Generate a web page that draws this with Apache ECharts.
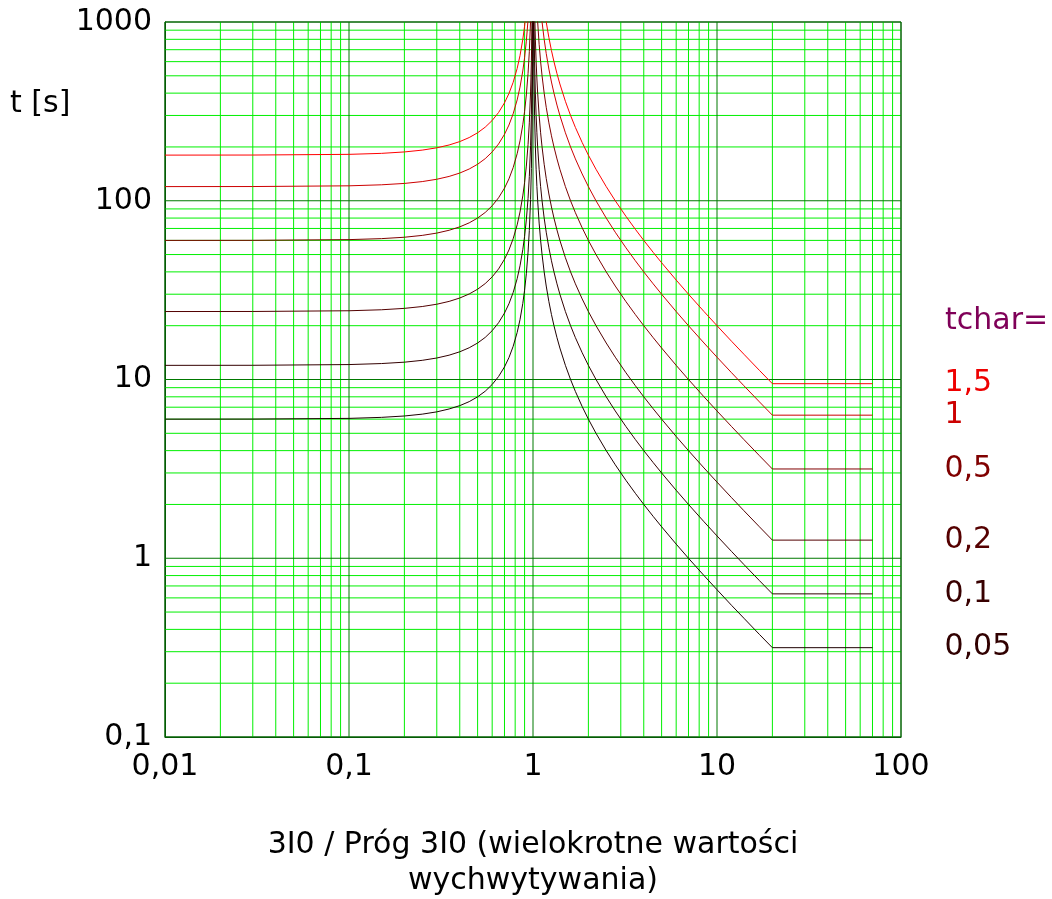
<!DOCTYPE html>
<html>
<head>
<meta charset="utf-8">
<script src="https://cdn.jsdelivr.net/npm/echarts@6/dist/echarts.min.js"></script>
<style>
  html, body { margin: 0; padding: 0; background: #fff; }
  #chart { width: 1052px; height: 899px; }
</style>
</head>
<body>
<div id="chart"></div>
<script>
// multiples of pick-up value (3I0 / Prog 3I0), below and above 1
const xLeft = [0.01, 0.03, 0.1, 0.15, 0.2, 0.25, 0.3, 0.35, 0.4, 0.45,
  0.5, 0.55, 0.6, 0.65, 0.7, 0.74, 0.78, 0.82, 0.85, 0.88,
  0.9, 0.92, 0.94, 0.955, 0.97, 0.98, 0.99, 0.995, 0.998];
const xRight = [1.002, 1.005, 1.01, 1.02, 1.03, 1.04, 1.05, 1.06, 1.08, 1.1,
  1.12, 1.15, 1.18, 1.22, 1.26, 1.3, 1.35, 1.4, 1.5, 1.6,
  1.7, 1.85, 2, 2.2, 2.5, 2.8, 3.2, 3.6, 4, 4.5,
  5, 6, 7, 8.5, 10, 12, 14, 17, 20, 70];

// times t [s] (left branch, right branch)
const t005L = [6.0, 6.005, 6.06, 6.14, 6.25, 6.40, 6.59, 6.84, 7.14, 7.52,
  8.0, 8.60, 9.38, 10.39, 11.76, 13.26, 15.32, 18.32, 21.62, 26.60,
  31.58, 39.06, 51.55, 68.20, 101.5, 151.5, 301.5, 601.5, 1501.5];
const t005R = [3000, 1200, 600, 300, 200, 150, 120, 100, 75, 60,
  50, 40, 33.33, 27.27, 23.08, 20, 17.14, 15, 12, 10,
  8.571, 7.059, 6, 5, 4, 3.333, 2.727, 2.308, 2, 1.714,
  1.5, 1.2, 1.0, 0.8, 0.667, 0.545, 0.462, 0.375, 0.316, 0.316];

const t01L = [12.0, 12.01, 12.12, 12.28, 12.5, 12.80, 13.19, 13.68, 14.29, 15.05,
  16.0, 17.20, 18.75, 20.78, 23.53, 26.52, 30.64, 36.63, 43.24, 53.19,
  63.16, 78.13, 103.1, 136.4, 203.0, 303.0, 603.0, 1203, 3003];
const t01R = [6000, 2400, 1200, 600, 400, 300, 240, 200, 150, 120,
  100, 80, 66.67, 54.55, 46.15, 40, 34.29, 30, 24, 20,
  17.14, 14.12, 12, 10, 8, 6.667, 5.455, 4.615, 4, 3.429,
  3, 2.4, 2, 1.6, 1.333, 1.091, 0.923, 0.75, 0.632, 0.632];

const t02L = [24.0, 24.02, 24.24, 24.55, 25.0, 25.60, 26.37, 27.35, 28.57, 30.09,
  32.0, 34.41, 37.5, 41.56, 47.06, 53.05, 61.29, 73.26, 86.49, 106.4,
  126.3, 156.3, 206.2, 272.8, 406.1, 606.1, 1206, 2406, 6006];
const t02R = [12000, 4800, 2400, 1200, 800, 600, 480, 400, 300, 240,
  200, 160, 133.3, 109.1, 92.31, 80, 68.57, 60, 48, 40,
  34.29, 28.24, 24, 20, 16, 13.33, 10.91, 9.231, 8, 6.857,
  6, 4.8, 4, 3.2, 2.667, 2.182, 1.846, 1.5, 1.263, 1.263];

const t05L = [60.0, 60.05, 60.61, 61.38, 62.5, 64.0, 65.93, 68.38, 71.43, 75.23,
  80.0, 86.02, 93.75, 103.9, 117.6, 132.6, 153.2, 183.2, 216.2, 266.0,
  315.8, 390.6, 515.5, 682.0, 1015, 1515, 3015, 6015, 15015];
const t05R = [30000, 12000, 6000, 3000, 2000, 1500, 1200, 1000, 750, 600,
  500, 400, 333.3, 272.7, 230.8, 200, 171.4, 150, 120, 100,
  85.71, 70.59, 60, 50, 40, 33.33, 27.27, 23.08, 20, 17.14,
  15, 12, 10, 8, 6.667, 5.455, 4.615, 3.75, 3.158, 3.158];

const t1L = [120.0, 120.1, 121.2, 122.8, 125.0, 128.0, 131.9, 136.8, 142.9, 150.5,
  160.0, 172.0, 187.5, 207.8, 235.3, 265.2, 306.4, 366.3, 432.4, 531.9,
  631.6, 781.3, 1031, 1364, 2030, 3030, 6030, 12030, 30030];
const t1R = [60000, 24000, 12000, 6000, 4000, 3000, 2400, 2000, 1500, 1200,
  1000, 800, 666.7, 545.5, 461.5, 400, 342.9, 300, 240, 200,
  171.4, 141.2, 120, 100, 80, 66.67, 54.55, 46.15, 40, 34.29,
  30, 24, 20, 16, 13.33, 10.91, 9.231, 7.5, 6.316, 6.316];

const t15L = [180.0, 180.2, 181.8, 184.1, 187.5, 192.0, 197.8, 205.1, 214.3, 225.7,
  240.0, 258.1, 281.3, 311.7, 352.9, 397.9, 459.6, 549.5, 648.6, 797.9,
  947.4, 1172, 1546, 2046, 3046, 4545, 9045, 18045, 45045];
const t15R = [90000, 36000, 18000, 9000, 6000, 4500, 3600, 3000, 2250, 1800,
  1500, 1200, 1000, 818.2, 692.3, 600, 514.3, 450, 360, 300,
  257.1, 211.8, 180, 150, 120, 100, 81.82, 69.23, 60, 51.43,
  45, 36, 30, 24, 20, 16.36, 13.85, 11.25, 9.474, 9.474];

const curveNames = ["0,05", "0,1", "0,2", "0,5", "1", "1,5"];
const curveLeft = [t005L, t01L, t02L, t05L, t1L, t15L];
const curveRight = [t005R, t01R, t02R, t05R, t1R, t15R];
const curveColors = ["#1e0000", "#330000", "#520000", "#800000", "#cc0000", "#ff0000"];
const labelColors = ["#300000", "#380000", "#550000", "#800000", "#cc0000", "#ee0000"];

// grid line positions
const majorX = [0.01, 0.1, 1, 10, 100];
const majorY = [0.1, 1, 10, 100, 1000];
const minorX = [0.02, 0.03, 0.04, 0.05, 0.06, 0.07, 0.08, 0.09,
  0.2, 0.3, 0.4, 0.5, 0.6, 0.7, 0.8, 0.9,
  2, 3, 4, 5, 6, 7, 8, 9,
  20, 30, 40, 50, 60, 70, 80, 90];
const minorY = [0.2, 0.3, 0.4, 0.5, 0.6, 0.7, 0.8, 0.9,
  2, 3, 4, 5, 6, 7, 8, 9,
  20, 30, 40, 50, 60, 70, 80, 90,
  200, 300, 400, 500, 600, 700, 800, 900];

const FONT = "DejaVu Sans";
const FS = 30;
const fmt = v => String(v).replace(".", ",");

let myChart = echarts.init(document.getElementById("chart"));

function gridLines(vertical, color) {
  return function (params, api) {
    let cs = params.coordSys;
    let p = api.coord(vertical ? [api.value(0), 1] : [1, api.value(0)]);
    let shape = vertical
      ? { x1: p[0], y1: cs.y, x2: p[0], y2: cs.y + cs.height }
      : { x1: cs.x, y1: p[1], x2: cs.x + cs.width, y2: p[1] };
    return {
      type: "line",
      shape: shape,
      style: { stroke: color, lineWidth: 1 },
      silent: true
    };
  };
}

function gridSeries(values, vertical, color, z) {
  return {
    type: "custom",
    z: z,
    silent: true,
    clip: false,
    renderItem: gridLines(vertical, color),
    encode: vertical ? { x: 0 } : { y: 0 },
    data: values.map(v => [v])
  };
}

let series = [
  gridSeries(minorX, true, "#00f000", 1),
  gridSeries(minorY, false, "#00f000", 1),
  gridSeries(majorX, true, "#007800", 2),
  gridSeries(majorY, false, "#007800", 2)
];

curveNames.forEach((name, i) => {
  let data = xLeft.map((x, j) => [x, curveLeft[i][j]])
    .concat(xRight.map((x, j) => [x, curveRight[i][j]]));
  series.push({
    name: name,
    type: "line",
    z: 5,
    symbol: "none",
    smooth: false,
    clip: true,
    silent: true,
    lineStyle: { color: curveColors[i], width: 1 },
    endLabel: {
      show: true,
      formatter: "{a}",
      offset: [64, 0],
      color: labelColors[i],
      fontFamily: FONT,
      fontSize: FS
    },
    data: data
  });
});

let option = {
  animation: false,
  backgroundColor: "#fff",
  grid: {
    left: 165,
    right: 151,
    top: 22,
    bottom: 162,
    outerBoundsMode: "none",
    show: true,
    borderColor: "#0b3d0b",
    borderWidth: 1
  },
  xAxis: {
    type: "log",
    logBase: 10,
    min: 0.01,
    max: 100,
    interval: 1,
    name: "3I0 / Próg 3I0 (wielokrotne wartości\nwychwytywania)",
    nameLocation: "middle",
    nameGap: 90,
    nameTextStyle: { fontFamily: FONT, fontSize: FS, color: "#000", lineHeight: 36 },
    axisLine: { lineStyle: { color: "#0b3d0b", width: 1 } },
    axisTick: { show: false },
    minorTick: { show: false },
    minorSplitLine: { show: false },
    axisLabel: { formatter: fmt, fontFamily: FONT, fontSize: FS, color: "#000", margin: 15 },
    splitLine: { show: false }
  },
  yAxis: {
    type: "log",
    logBase: 10,
    min: 0.1,
    max: 1000,
    interval: 1,
    axisLine: { show: true, lineStyle: { color: "#0b3d0b", width: 1 } },
    axisTick: { show: false },
    minorTick: { show: false },
    minorSplitLine: { show: false },
    axisLabel: { formatter: fmt, fontFamily: FONT, fontSize: FS, color: "#000", margin: 13 },
    splitLine: { show: false }
  },
  graphic: [
    {
      type: "text",
      left: 10,
      top: 89,
      style: { text: "t [s]", font: FS + "px DejaVu Sans", fill: "#000" }
    },
    {
      type: "text",
      left: 945,
      top: 306,
      style: { text: "tchar=", font: FS + "px DejaVu Sans", fill: "#7f0058" }
    }
  ],
  series: series
};

myChart.setOption(option);
</script>
</body>
</html>
